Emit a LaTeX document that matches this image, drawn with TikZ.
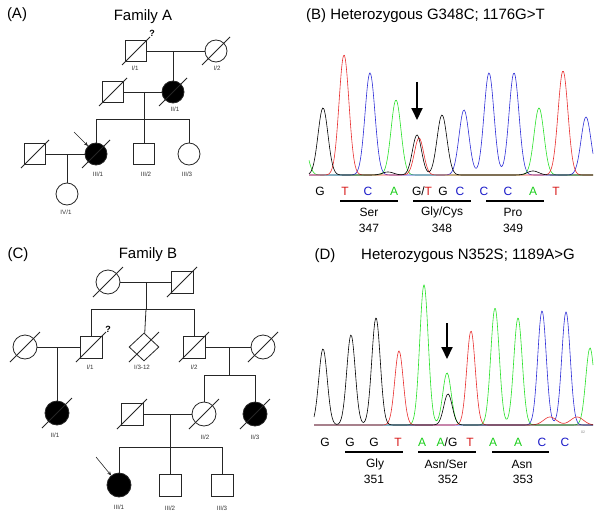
\documentclass[tikz,border=0pt]{standalone}
\usepackage{fontspec}
\setmainfont{Liberation Sans}
\usetikzlibrary{shapes.geometric,arrows.meta}
\definecolor{tr}{RGB}{232,45,45}
\definecolor{tb}{RGB}{45,45,215}
\definecolor{tg}{RGB}{40,225,40}
\definecolor{lr}{RGB}{215,25,25}
\definecolor{lb}{RGB}{25,25,200}
\definecolor{lg}{RGB}{25,205,25}
\newcommand\dslash[2][14]{\draw[ped] ([shift={(-#1,#1)}]#2.center) -- ([shift={(#1,-#1)}]#2.center);}
\begin{document}
\begin{tikzpicture}[x=1pt,y=-1pt,
  declare function={g(\q,\m,\h,\s)=\h*exp(0-((\q-\m)/\s)^2);},
  title/.style={font=\fontsize{15}{17}\selectfont, inner sep=0pt},
  ped/.style={draw=black!85, line width=0.8pt},
  sq/.style={ped, rectangle, minimum size=21pt, inner sep=0pt, fill=white},
  ci/.style={ped, circle, minimum size=22pt, inner sep=0pt, fill=white},
  sqB/.style={ped, rectangle, minimum size=22pt, inner sep=0pt, fill=white},
  ciB/.style={ped, circle, minimum size=24pt, inner sep=0pt, fill=white},
  dia/.style={ped, diamond, minimum width=30pt, minimum height=28pt, inner sep=0pt, fill=white},
  aff/.style={fill=black},
  lab/.style={font=\fontsize{6.2}{7}\selectfont, text=black!80, inner sep=0pt},
  qm/.style={font=\fontsize{9}{10}\selectfont\bfseries, inner sep=0pt},
  parrow/.style={draw=black!85, line width=0.6pt, -{Stealth[length=4pt,width=3.5pt]}},
  trace/.style={line width=0.6pt},
  bl/.style={font=\fontsize{12}{14}\selectfont, inner sep=0pt},
  aa/.style={font=\fontsize{12}{14}\selectfont, inner sep=0pt},
  uline/.style={line width=2pt},
  bigarrow/.style={line width=2pt, -{Triangle[width=11pt,length=12pt]}}
]
\useasboundingbox (0,0) rectangle (601,516);

% ---------- titles ----------
\node[title] (tA) at (17,15) {(A)};
\node[title] (fA) at (143,17) {Family A};
\node[title] (tC) at (18,255) {(C)};
\node[title] (fB) at (148,255) {Family B};
\node[title,anchor=west] (tB) at (306,16) {(B) Heterozygous G348C; 1176G>T};
\node[title] (tD) at (325,256) {(D)};
\node[title,anchor=west] (tD2) at (361,256) {Heterozygous N352S; 1189A>G};

% ---------- Family A ----------
\coordinate (Am1) at (173,51);
\coordinate (Am2) at (144,92);
\coordinate (AsL) at (96,119);
\coordinate (AsM) at (144,119);
\coordinate (AsR) at (189,119);
\coordinate (Am3) at (67,154);
\draw[ped] (Am1) -- (173,92);
\draw[ped] (Am2) -- (AsM);
\draw[ped] (AsL) -- (AsR);
\draw[ped] (AsL) -- (96,154);
\draw[ped] (AsM) -- (144,154);
\draw[ped] (AsR) -- (189,154);
\draw[ped] (Am3) -- (67,194);
\draw[ped] (136,51) -- (216,51);
\draw[ped] (113,92) -- (173,92);
\draw[ped] (35,154) -- (96,154);
\node[sq] (A11) at (136,51) {};
\node[ci] (A12) at (216,51) {};
\node[sq] (A2s) at (113,92) {};
\node[ci,aff] (A21) at (173,92) {};
\node[sq] (A3s) at (35,154) {};
\node[ci,aff] (A31) at (96,154) {};
\node[sq] (A32) at (144,154) {};
\node[ci] (A33) at (189,154) {};
\node[ci] (A41) at (67,194) {};
\dslash{A11}\dslash{A12}\dslash{A2s}\dslash{A21}\dslash{A31}\dslash{A3s}
\coordinate (Aar) at (74,132);
\draw[parrow] (Aar) -- (A31);
\node[qm] (Aq) at (152,33) {?};
\node[lab] (Al11) at (135,68) {I/1};
\node[lab] (Al12) at (217,68) {I/2};
\node[lab] (Al21) at (175,109) {II/1};
\node[lab] (Al31) at (98,174) {III/1};
\node[lab] (Al32) at (146,174) {III/2};
\node[lab] (Al33) at (187,174) {III/3};
\node[lab] (Al41) at (66,212) {IV/1};

% ---------- Family B ----------
\coordinate (Bm0) at (146,282);
\coordinate (Bs0L) at (91,309);
\coordinate (Bs0M) at (146,309);
\coordinate (Bs0R) at (194,309);
\coordinate (Bm1) at (57,347);
\coordinate (Bm2) at (229,347);
\coordinate (Bs2L) at (204,375);
\coordinate (Bs2M) at (229,375);
\coordinate (Bs2R) at (255,375);
\coordinate (Bm3) at (170,414);
\coordinate (Bs3L) at (119,447);
\coordinate (Bs3M) at (170,447);
\coordinate (Bs3R) at (222,447);
\draw[ped] (108,282) -- (182,282);
\draw[ped] (Bm0) -- (Bs0M);
\draw[ped] (Bs0L) -- (Bs0R);
\draw[ped] (Bs0L) -- (91,347);
\draw[ped] (Bs0M) -- (144,347);
\draw[ped] (Bs0R) -- (194,347);
\draw[ped] (25,347) -- (91,347);
\draw[ped] (Bm1) -- (57,413);
\draw[ped] (194,347) -- (263,347);
\draw[ped] (Bm2) -- (Bs2M);
\draw[ped] (Bs2L) -- (Bs2R);
\draw[ped] (Bs2L) -- (204,414);
\draw[ped] (Bs2R) -- (255,414);
\draw[ped] (132,414) -- (204,414);
\draw[ped] (Bm3) -- (Bs3M);
\draw[ped] (Bs3L) -- (Bs3R);
\draw[ped] (Bs3L) -- (119,485);
\draw[ped] (Bs3M) -- (170,485);
\draw[ped] (Bs3R) -- (222,485);
\node[ciB] (B01) at (108,282) {};
\node[sqB] (B02) at (182,282) {};
\node[sqB] (BI1) at (91,347) {};
\node[dia] (BI3) at (144,347) {};
\node[sqB] (BI2) at (194,347) {};
\node[ciB] (BI1s) at (25,347) {};
\node[ciB] (BI2s) at (263,347) {};
\node[ciB,aff] (BII1) at (57,413) {};
\node[ciB] (BII2) at (204,414) {};
\node[ciB,aff] (BII3) at (255,414) {};
\node[sqB] (BII2s) at (132,414) {};
\node[ciB,aff] (BIII1) at (119,485) {};
\node[sqB] (BIII2) at (170,485) {};
\node[sqB] (BIII3) at (222,485) {};
\dslash[15]{B01}\dslash[15]{B02}\dslash[15]{BI1}\dslash[15]{BI3}\dslash[15]{BI2}
\dslash[15]{BI1s}\dslash[15]{BI2s}\dslash[15]{BII1}\dslash[15]{BII2}\dslash[15]{BII3}\dslash[15]{BII2s}
\coordinate (Bar) at (96,457);
\draw[parrow] (Bar) -- (BIII1);
\node[qm] (Bq) at (108,329) {?};
\node[lab] (Bl11) at (90,367) {I/1};
\node[lab] (Bl13) at (142,367) {I/3-12};
\node[lab] (Bl12) at (194,367) {I/2};
\node[lab] (Bl21) at (55,435) {II/1};
\node[lab] (Bl22) at (205,437) {II/2};
\node[lab] (Bl23) at (255,437) {II/3};
\node[lab] (Bl31) at (119,507) {III/1};
\node[lab] (Bl32) at (170,508) {III/2};
\node[lab] (Bl33) at (222,508) {III/3};

% ---------- Panel B chromatogram ----------
\draw[tg,trace] plot[domain=309:593,samples=290,smooth] (\x,{175-g(\x,302,40,7)-g(\x,396,75,7)-g(\x,539,67,7)});
\draw[tb,trace] plot[domain=309:593,samples=290,smooth] (\x,{175-g(\x,370,102,7)-g(\x,464,65,7)-g(\x,489,102,7)-g(\x,514,102,7)-g(\x,586,58,7)});
\draw[tr,trace] plot[domain=309:593,samples=290,smooth] (\x,{175-g(\x,344,120,7)-g(\x,419,37,6.5)-g(\x,563,104,7)});
\draw[black,trace] plot[domain=309:593,samples=290,smooth] (\x,{175-g(\x,323,67,7)-g(\x,417,40,6.5)-g(\x,442,60,7)-g(\x,388,3,8)-g(\x,533,4,8)});
\coordinate (Ba0) at (417,82);
\coordinate (Ba1) at (417,120);
\draw[bigarrow] (Ba0) -- (Ba1);
\node[bl] (b1) at (320,191) {G};
\node[bl,text=lr] (b2) at (345,191) {T};
\node[bl,text=lb] (b3) at (368,191) {C};
\node[bl,text=lg] (b4) at (394,191) {A};
\node[bl] (b5) at (422,191) {G/\textcolor{lr}{T}};
\node[bl] (b6) at (443,191) {G};
\node[bl,text=lb] (b7) at (460,191) {C};
\node[bl,text=lb] (b8) at (484,191) {C};
\node[bl,text=lb] (b9) at (508,191) {C};
\node[bl,text=lg] (b10) at (533,191) {A};
\node[bl,text=lr] (b11) at (556,191) {T};
\coordinate (Bu1a) at (340,201); \coordinate (Bu1b) at (398,201);
\coordinate (Bu2a) at (413,201); \coordinate (Bu2b) at (471,201);
\coordinate (Bu3a) at (486,201); \coordinate (Bu3b) at (544,201);
\draw[uline] (Bu1a) -- (Bu1b);
\draw[uline] (Bu2a) -- (Bu2b);
\draw[uline] (Bu3a) -- (Bu3b);
\node[aa] (Bs1) at (369,212) {Ser};
\node[aa] (Bn1) at (369,228) {347};
\node[aa] (Bs2) at (442,212) {Gly/Cys};
\node[aa] (Bn2) at (442,228) {348};
\node[aa] (Bs3) at (513,212) {Pro};
\node[aa] (Bn3) at (513,228) {349};

% ---------- Panel D chromatogram ----------
\draw[tg,trace] plot[domain=314:593,samples=290,smooth] (\x,{425-g(\x,424,140,6)-g(\x,447,52,6)-g(\x,495,117,6)-g(\x,518,107,6)-g(\x,590,77,6)});
\draw[tb,trace] plot[domain=314:593,samples=290,smooth] (\x,{425-g(\x,542,114,6)-g(\x,566,113,6)});
\draw[tr,trace] plot[domain=314:593,samples=290,smooth] (\x,{425-g(\x,399,74,6)-g(\x,471,94,6)-g(\x,550,8,9)-g(\x,577,8,9)});
\draw[black,trace] plot[domain=314:593,samples=290,smooth] (\x,{425-g(\x,323,76,6)-g(\x,351,90,6)-g(\x,376,107,6)-g(\x,448,31,6)});
\coordinate (Da0) at (447,323);
\coordinate (Da1) at (447,359);
\draw[bigarrow] (Da0) -- (Da1);
\node[font=\fontsize{3.5}{4}\selectfont, text=black!50, inner sep=0pt] (d02) at (583,432) {02};
\node[bl] (d1) at (325,442) {G};
\node[bl] (d2) at (350,442) {G};
\node[bl] (d3) at (374,442) {G};
\node[bl,text=lr] (d4) at (398,442) {T};
\node[bl,text=lg] (d5) at (422,442) {A};
\node[bl] (d6) at (447,442) {\textcolor{lg}{A}/G};
\node[bl,text=lr] (d7) at (470,442) {T};
\node[bl,text=lg] (d8) at (493,442) {A};
\node[bl,text=lg] (d9) at (518,442) {A};
\node[bl,text=lb] (d10) at (542,442) {C};
\node[bl,text=lb] (d11) at (565,442) {C};
\coordinate (Du1a) at (345,452); \coordinate (Du1b) at (403,452);
\coordinate (Du2a) at (418,452); \coordinate (Du2b) at (476,452);
\coordinate (Du3a) at (492,452); \coordinate (Du3b) at (549,452);
\draw[uline] (Du1a) -- (Du1b);
\draw[uline] (Du2a) -- (Du2b);
\draw[uline] (Du3a) -- (Du3b);
\node[aa] (Ds1) at (375,464) {Gly};
\node[aa] (Dn1) at (374,479) {351};
\node[aa] (Ds2) at (446,464) {Asn/Ser};
\node[aa] (Dn2) at (448,479) {352};
\node[aa] (Ds3) at (522,464) {Asn};
\node[aa] (Dn3) at (523,479) {353};
\end{tikzpicture}
\end{document}
